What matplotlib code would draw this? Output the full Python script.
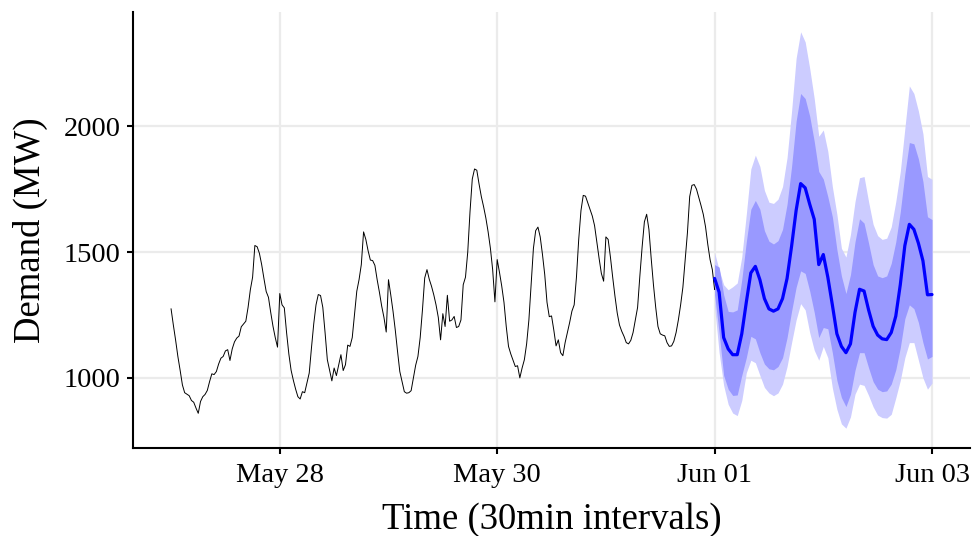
import numpy as np
import pandas as pd
import matplotlib
matplotlib.use("Agg")
import matplotlib.pyplot as plt
import matplotlib.dates as mdates

plt.rcParams['font.family'] = ['Liberation Serif', 'DejaVu Serif']

# half-hourly demand, May 27 00:00 -> Jun 01 00:00
demand = [
    1274, 1210, 1150, 1085, 1030, 972, 941, 935, 929, 910,
    903, 880, 859, 906, 925, 934, 950, 985, 1016, 1013,
    1025, 1055, 1078, 1085, 1107, 1112, 1069, 1115, 1143, 1158,
    1166, 1203, 1214, 1225, 1280, 1350, 1400, 1526, 1521, 1495,
    1450, 1395, 1343, 1320, 1260, 1205, 1160, 1122, 1335, 1290,
    1278, 1180, 1095, 1030, 990, 955, 925, 916, 945, 941,
    980, 1019, 1120, 1215, 1290, 1331, 1327, 1280, 1180, 1072,
    1030, 988, 1039, 1009, 1050, 1092, 1029, 1052, 1130, 1125,
    1160, 1250, 1344, 1390, 1450, 1580, 1550, 1505, 1468, 1466,
    1447, 1390, 1340, 1285, 1240, 1182, 1390, 1330, 1265, 1190,
    1105, 1025, 985, 945, 939, 941, 949, 1000, 1050, 1085,
    1160, 1270, 1397, 1430, 1392, 1364, 1330, 1290, 1240, 1151,
    1255, 1204, 1328, 1225, 1230, 1244, 1200, 1204, 1230, 1370,
    1400, 1500, 1660, 1790, 1830, 1825, 1770, 1720, 1680, 1635,
    1580, 1515, 1430, 1302, 1470, 1420, 1365, 1300, 1204, 1125,
    1095, 1070, 1045, 1048, 1000, 1039, 1072, 1135, 1230, 1370,
    1515, 1585, 1599, 1560, 1490, 1410, 1300, 1243, 1246, 1190,
    1127, 1151, 1100, 1088, 1140, 1180, 1220, 1265, 1290, 1400,
    1550, 1665, 1725, 1722, 1696, 1670, 1643, 1605, 1540, 1475,
    1415, 1384, 1560, 1550, 1480, 1400, 1325, 1258, 1210, 1185,
    1165, 1140, 1135, 1149, 1180, 1230, 1280, 1405, 1520, 1620,
    1650, 1590, 1475, 1370, 1280, 1204, 1175, 1170, 1167, 1140,
    1125, 1127, 1145, 1180, 1230, 1290, 1360, 1470, 1576, 1720,
    1765, 1768, 1750, 1718, 1685, 1650, 1600, 1530, 1470, 1430,
    1351,
]

# hourly forecast, Jun 01 00:00 -> Jun 03 00:00
fc_mean = [
    1395, 1340, 1160, 1115, 1092, 1092, 1175, 1300, 1417, 1443,
    1390, 1315, 1274, 1265, 1274, 1315, 1395, 1523, 1665, 1772,
    1755, 1690, 1630, 1450, 1490, 1400, 1290, 1175, 1125, 1100,
    1135, 1260, 1352, 1345, 1270, 1205, 1170, 1155, 1152, 1180,
    1245, 1370, 1525, 1610, 1590, 1535, 1465, 1330, 1331,
]
fc_hi80 = [
    1450, 1440, 1330, 1264, 1262, 1270, 1390, 1540, 1670, 1705,
    1670, 1585, 1543, 1532, 1545, 1590, 1690, 1840, 2020, 2130,
    2110, 2040, 1940, 1820, 1790, 1720, 1640, 1510, 1405, 1335,
    1410, 1540, 1632, 1615, 1535, 1450, 1405, 1398, 1405, 1455,
    1540, 1660, 1810, 1935, 1930, 1870, 1780, 1640, 1629,
]
fc_lo80 = [
    1330, 1180, 1010, 955, 930, 932, 1010, 1080, 1165, 1155,
    1100, 1055, 1036, 1032, 1045, 1080, 1160, 1265, 1360, 1425,
    1415, 1345, 1260, 1160, 1200, 1195, 1100, 990, 922, 886,
    935, 1030, 1100, 1100, 1040, 985, 955, 945, 948, 975,
    1032, 1120, 1235, 1290, 1275, 1220, 1140, 1075, 1085,
]
fc_hi95 = [
    1497, 1430, 1370, 1350, 1362, 1377, 1480, 1650, 1830, 1885,
    1840, 1745, 1698, 1693, 1710, 1760, 1875, 2060, 2270, 2375,
    2335, 2230, 2110, 1960, 1985, 1900, 1760, 1650, 1515, 1480,
    1570, 1700, 1795, 1800, 1700, 1610, 1565, 1550, 1555, 1600,
    1700, 1820, 1990, 2160, 2130, 2060, 1970, 1800, 1789,
]
fc_lo95 = [
    1283, 1100, 970, 895, 860, 850, 910, 1020, 1070, 1060,
    1010, 962, 940, 929, 940, 975, 1045, 1140, 1230, 1295,
    1270, 1180, 1110, 1070, 1125, 1080, 960, 875, 817, 800,
    845, 935, 975, 970, 930, 885, 852, 842, 840, 855,
    920, 990, 1080, 1140, 1140, 1070, 1000, 955, 979,
]

t_hist = pd.date_range("2014-05-27 00:00", periods=len(demand), freq="30min")
t_fc = pd.date_range("2014-06-01 00:00", periods=len(fc_mean), freq="h")

fig = plt.figure(figsize=(9.76, 5.36), dpi=100)
ax = fig.add_axes([0.1363, 0.1642, 0.8576, 0.8134])

ax.fill_between(t_fc, fc_lo95, fc_hi95, color="#ccccff", linewidth=0, zorder=2)
ax.fill_between(t_fc, fc_lo80, fc_hi80, color="#9999ff", linewidth=0, zorder=3)
ax.plot(t_hist, demand, color="black", linewidth=0.7, zorder=4)
ax.plot(t_fc, fc_mean, color="#0000ff", linewidth=2.3, zorder=5,
        solid_joinstyle="round", solid_capstyle="round")

# ggplot style 5% expansion
x0 = mdates.date2num(t_hist[0])
x1 = mdates.date2num(t_fc[-1])
dx = (x1 - x0) * 0.05
ax.set_xlim(x0 - dx, x1 + dx)
y0 = min(min(demand), min(fc_lo95))
y1 = max(max(demand), max(fc_hi95))
dy = (y1 - y0) * 0.05
ax.set_ylim(y0 - dy, y1 + dy)

ax.xaxis.set_major_locator(mdates.DayLocator(bymonthday=[28, 30, 1, 3]))
ax.xaxis.set_major_formatter(mdates.DateFormatter("%b %d"))
ax.set_yticks([1000, 1500, 2000])

ax.grid(True, color="#ebebeb", linewidth=1.6, zorder=0)
ax.set_axisbelow(True)
for s in ["top", "right"]:
    ax.spines[s].set_visible(False)
for s in ["left", "bottom"]:
    ax.spines[s].set_linewidth(1.5)
ax.tick_params(axis="both", length=4, width=1.5, labelsize=20.5, colors="black")
ax.tick_params(axis="x", pad=7)
ax.tick_params(axis="y", pad=5)

ax.set_xlabel("Time (30min intervals)", fontsize=26.5, labelpad=10)
ax.set_ylabel("Demand (MW)", fontsize=26.5, labelpad=11)

fig.savefig("out.png", dpi=100)
